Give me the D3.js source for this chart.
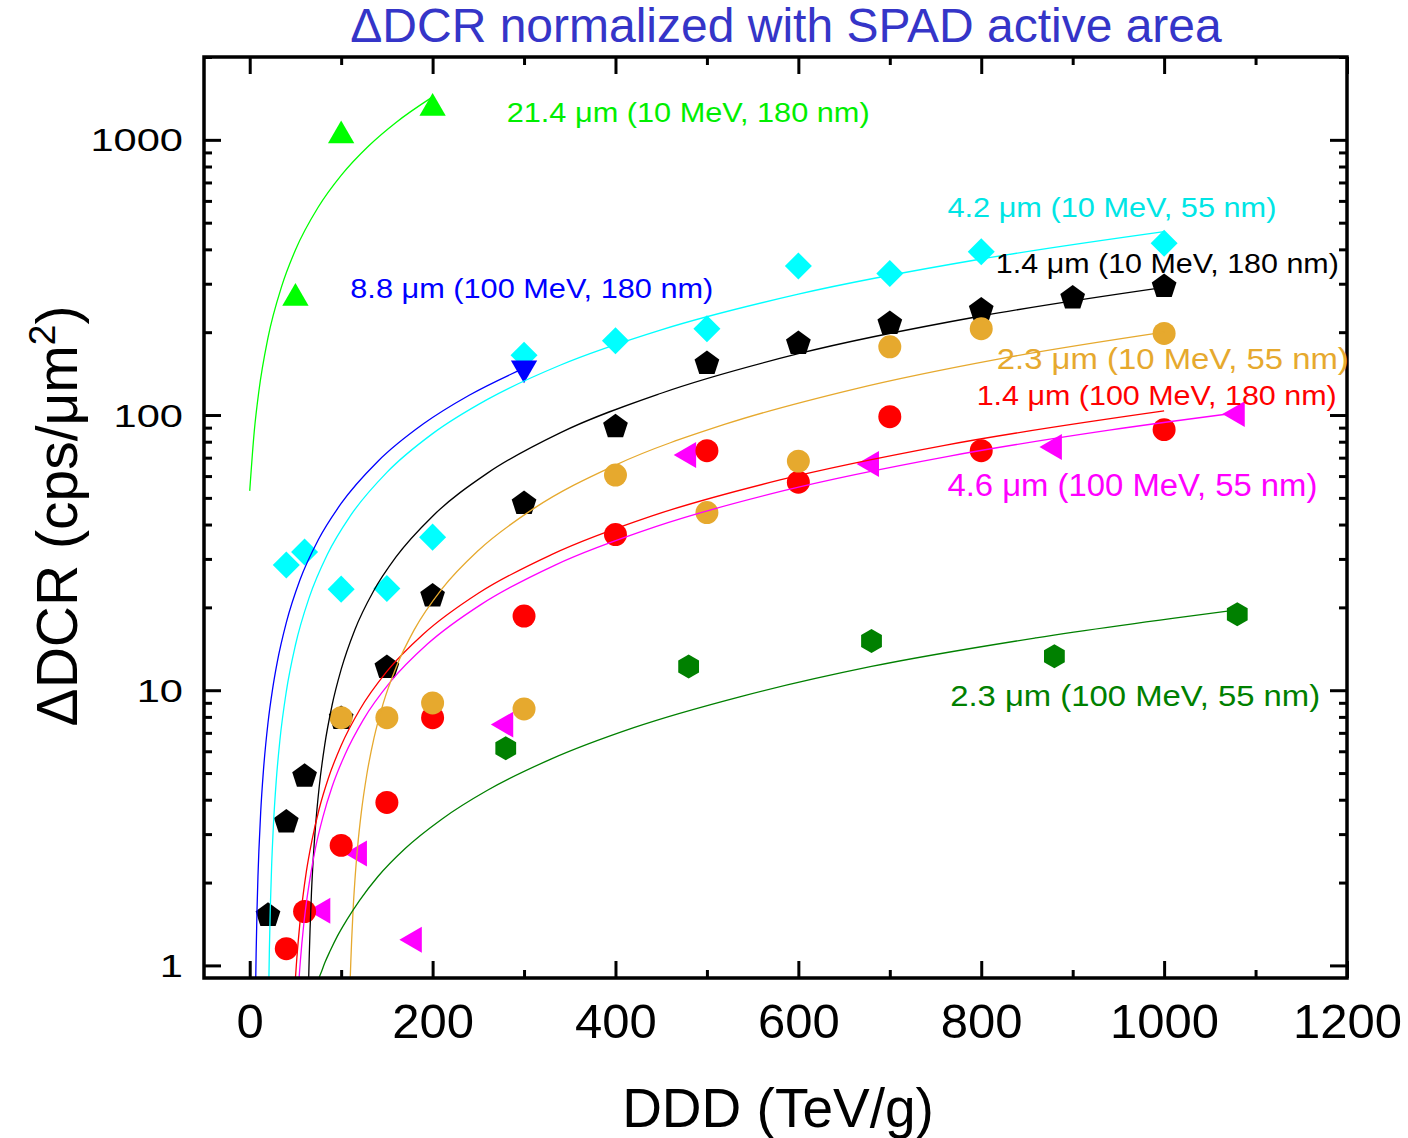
<!DOCTYPE html>
<html lang="en">
<head>
<meta charset="UTF-8">
<title>DCR vs DDD</title>
<script src="https://d3js.org/d3.v7.min.js"></script>
<style>
  body { margin: 0; background: #fff; font-family: Arial, "Liberation Sans", sans-serif; }
  .tick line { stroke: #000; stroke-width: 3; }
  .domain { display: none; }
  .fit { fill: none; stroke-width: 1.3; }
</style>
</head>
<body>
<div id="chart"></div>
<script>
// ---- measured points (DDD in TeV/g, delta DCR in cps/um^2) ----
// 21.4 um (10 MeV, 180 nm)
const ddd_214 = [50, 100, 200];
const dcr_214 = [266, 1035, 1303];
// 8.8 um (100 MeV, 180 nm)
const ddd_88 = [300];
const dcr_88 = [148];
// 4.2 um (10 MeV, 55 nm)
const ddd_42 = [40, 60, 100, 150, 200, 300, 400, 500, 600, 700, 800, 1000];
const dcr_42 = [28.5, 31.8, 23.3, 23.4, 36, 165, 186, 206, 348, 327, 392, 421];
// 1.4 um (10 MeV, 180 nm)
const ddd_14a = [20, 40, 60, 100, 150, 200, 300, 400, 500, 600, 700, 800, 900, 1000];
const dcr_14a = [1.52, 3.32, 4.87, 7.9, 12.1, 22, 47.7, 90.6, 154, 182, 215, 241, 266, 293];
// 2.3 um (10 MeV, 55 nm)
const ddd_23a = [100, 150, 200, 300, 400, 500, 600, 700, 800, 1000];
const dcr_23a = [7.95, 7.95, 8.99, 8.55, 60.5, 44.2, 68, 177, 206, 198];
// 1.4 um (100 MeV, 180 nm)
const ddd_14b = [40, 60, 100, 150, 200, 300, 400, 500, 600, 700, 800, 1000];
const dcr_14b = [1.15, 1.57, 2.73, 3.91, 7.95, 18.6, 36.8, 74.2, 57, 98.6, 74.2, 88.5];
// 4.6 um (100 MeV, 55 nm)
const ddd_46 = [80, 120, 180, 280, 480, 680, 880, 1080];
const dcr_46 = [1.58, 2.55, 1.24, 7.5, 71.6, 66.4, 76.5, 100.8];
// 2.3 um (100 MeV, 55 nm)
const ddd_23b = [280, 480, 680, 880, 1080];
const dcr_23b = [6.15, 12.2, 15.1, 13.3, 18.9];

// ---- fit lines, points [DDD, DCR] ----
const fit_214 = [[0, 53], [5, 87.5], [10, 122], [20, 191], [35, 294], [50, 398], [75, 570], [100, 743],
  [130, 950], [160, 1157], [200, 1433]];
const fit_88 = [[6.6, 0.9], [7, 1.1], [8, 1.6], [9, 2.1], [10, 2.6], [12, 3.61], [15, 5.11], [20, 7.62],
  [25, 10.1], [30, 12.6], [40, 17.6], [55, 25.2], [75, 35.2], [100, 47.7], [140, 67.8], [190, 92.9],
  [240, 118], [300, 148]];
const fit_42 = [[21, 0.9], [21.5, 1.14], [22.5, 1.61], [24, 2.32], [26, 3.27], [29, 4.69], [33, 6.58],
  [40, 9.89], [50, 14.6], [65, 21.7], [85, 31.2], [110, 43], [150, 61.9], [200, 85.6], [260, 114],
  [340, 152], [450, 204], [600, 275], [800, 369], [1000, 464]];
const fit_14a = [[64.5, 0.9], [65, 1.05], [66, 1.36], [67.5, 1.83], [69.5, 2.45], [72, 3.22], [76, 4.46],
  [82, 6.32], [90, 8.8], [100, 11.9], [115, 16.6], [135, 22.8], [160, 30.5], [200, 42.9], [260, 61.5],
  [340, 86.3], [450, 120], [600, 167], [800, 229], [1000, 291]];
const fit_23a = [[110, 0.91], [110.5, 1.02], [111.5, 1.24], [113, 1.58], [115, 2.03], [118, 2.7], [122, 3.59],
  [128, 4.93], [136, 6.72], [146, 8.96], [160, 12.1], [180, 16.6], [210, 23.3], [250, 32.2], [310, 45.6],
  [400, 65.8], [520, 92.6], [660, 124], [820, 160], [1000, 200]];
const fit_14b = [[50, 0.9], [50.5, 0.95], [51.5, 1.06], [53, 1.22], [55, 1.44], [58, 1.76], [62, 2.2],
  [68, 2.84], [76, 3.71], [86, 4.79], [100, 6.3], [120, 8.46], [150, 11.7], [190, 16], [250, 22.5],
  [330, 31.1], [440, 43], [580, 58.1], [760, 77.6], [1000, 103.5]];
const fit_46 = [[54, 0.9], [54.5, 0.95], [55.5, 1.05], [57, 1.2], [59, 1.4], [62, 1.69], [66, 2.08],
  [72, 2.68], [80, 3.46], [90, 4.45], [104, 5.82], [124, 7.79], [154, 10.74], [194, 14.68], [254, 20.6],
  [334, 28.5], [444, 39.3], [584, 53.1], [764, 70.8], [940, 88.1], [1078, 101.7]];
const fit_23b = [[75.7, 0.9], [78, 0.94], [82, 1.02], [88, 1.13], [96, 1.28], [106, 1.46], [120, 1.72],
  [140, 2.1], [170, 2.66], [210, 3.4], [260, 4.33], [330, 5.63], [420, 7.31], [540, 9.54], [680, 12.2],
  [860, 15.5], [1080, 19.6]];

// ---- axis ticks ----
const xMajor = [0, 200, 400, 600, 800, 1000, 1200];
const xMinor = [100, 300, 500, 700, 900, 1100];
const yMajor = [1, 10, 100, 1000];
const yLabels = ['1', '10', '100', '1000'];

const width = 1408;
const height = 1138;
const margin = { top: 57, right: 61, bottom: 160, left: 204 };

const svg = d3.select('#chart')
  .append('svg')
  .attr('width', width)
  .attr('height', height);

const x = d3.scaleLinear()
  .domain([-50, 1200])
  .range([margin.left, width - margin.right]);

const y = d3.scaleLog()
  .domain([0.9, 2000])
  .range([height - margin.bottom, margin.top]);

const yMinor = y.ticks().filter(v => !yMajor.includes(v) && v > 1);

svg.append('clipPath').attr('id', 'plot')
  .append('rect')
  .attr('x', margin.left).attr('y', margin.top)
  .attr('width', width - margin.left - margin.right)
  .attr('height', height - margin.top - margin.bottom);

// marker shapes, size = radius
const pentagon = {
  draw(ctx, r) {
    for (let i = 0; i < 5; i++) {
      const a = -Math.PI / 2 + i * 2 * Math.PI / 5;
      i ? ctx.lineTo(r * Math.cos(a), r * Math.sin(a)) : ctx.moveTo(r * Math.cos(a), r * Math.sin(a));
    }
    ctx.closePath();
  }
};
const hexagon = {
  draw(ctx, r) {
    for (let i = 0; i < 6; i++) {
      const a = -Math.PI / 2 + i * Math.PI / 3;
      i ? ctx.lineTo(r * Math.cos(a), r * Math.sin(a)) : ctx.moveTo(r * Math.cos(a), r * Math.sin(a));
    }
    ctx.closePath();
  }
};

const shapes = {
  triUp: { path: d3.symbol(d3.symbolTriangle, 300)(), rot: 0 },
  triDown: { path: d3.symbol(d3.symbolTriangle, 300)(), rot: 180 },
  triLeft: { path: d3.symbol(d3.symbolTriangle, 290)(), rot: -90 },
  diamond: { path: d3.symbol(d3.symbolSquare, 365)(), rot: 45 },
  circle: { path: d3.symbol(d3.symbolCircle, 415)(), rot: 0 },
  pentagon: { path: d3.symbol(pentagon, 13)(), rot: 0 },
  hexagon: { path: d3.symbol(hexagon, 12)(), rot: 0 }
};

// drawing order matters for the overlaps
const series = [
  { xs: ddd_214, ys: dcr_214, fit: fit_214, color: '#00ff00', shape: 'triUp' },
  { xs: ddd_42, ys: dcr_42, fit: fit_42, color: '#00ffff', shape: 'diamond' },
  { xs: ddd_88, ys: dcr_88, fit: fit_88, color: '#0000ff', shape: 'triDown' },
  { xs: ddd_14a, ys: dcr_14a, fit: fit_14a, color: '#000000', shape: 'pentagon' },
  { xs: ddd_46, ys: dcr_46, fit: fit_46, color: '#ff00ff', shape: 'triLeft' },
  { xs: ddd_14b, ys: dcr_14b, fit: fit_14b, color: '#ff0000', shape: 'circle' },
  { xs: ddd_23a, ys: dcr_23a, fit: fit_23a, color: '#e6a92e', shape: 'circle' },
  { xs: ddd_23b, ys: dcr_23b, fit: fit_23b, color: '#008000', shape: 'hexagon' }
];

// markers
series.forEach(s => {
  const pts = s.xs.map((d, i) => [d, s.ys[i]]);
  svg.append('g')
    .selectAll('path')
    .data(pts)
    .enter()
    .append('path')
    .attr('d', shapes[s.shape].path)
    .attr('transform', d => `translate(${x(d[0])},${y(d[1])}) rotate(${shapes[s.shape].rot})`)
    .attr('fill', s.color);
});

// fit lines on top
const line = d3.line()
  .x(d => x(d[0]))
  .y(d => y(d[1]))
  .curve(d3.curveMonotoneX);

svg.append('g')
  .attr('clip-path', 'url(#plot)')
  .selectAll('path')
  .data(series)
  .enter()
  .append('path')
  .attr('class', 'fit')
  .attr('d', s => line(s.fit))
  .attr('stroke', s => s.color);

// frame ticks, all pointing inward
const xBottom = height - margin.bottom;
const xTop = margin.top;
const yLeft = margin.left;
const yRight = width - margin.right;

svg.append('g')
  .attr('transform', `translate(0,${xBottom})`)
  .call(d3.axisBottom(x).tickValues(xMajor).tickSizeInner(-17).tickSizeOuter(0).tickPadding(25).tickFormat(d3.format('d')))
  .attr('font-size', 49)
  .attr('font-family', 'Arial, "Liberation Sans", sans-serif');
svg.append('g')
  .attr('transform', `translate(0,${xBottom})`)
  .call(d3.axisBottom(x).tickValues(xMinor).tickSize(-8).tickFormat(''));
svg.append('g')
  .attr('transform', `translate(0,${xTop})`)
  .call(d3.axisTop(x).tickValues(xMajor).tickSize(-17).tickFormat(''));
svg.append('g')
  .attr('transform', `translate(0,${xTop})`)
  .call(d3.axisTop(x).tickValues(xMinor).tickSize(-8).tickFormat(''));
svg.append('g')
  .attr('transform', `translate(${yLeft},0)`)
  .call(d3.axisLeft(y).tickValues(yMajor).tickSize(-17).tickFormat(''));
svg.append('g')
  .attr('transform', `translate(${yLeft},0)`)
  .call(d3.axisLeft(y).tickValues(yMinor).tickSize(-8).tickFormat(''));
svg.append('g')
  .attr('transform', `translate(${yRight},0)`)
  .call(d3.axisRight(y).tickValues(yMajor).tickSize(-17).tickFormat(''));
svg.append('g')
  .attr('transform', `translate(${yRight},0)`)
  .call(d3.axisRight(y).tickValues(yMinor).tickSize(-8).tickFormat(''));

svg.selectAll('.tick text').attr('fill', '#000');

// y tick labels are drawn wide in the original
svg.append('g')
  .selectAll('text')
  .data(yMajor)
  .enter()
  .append('text')
  .attr('transform', d => `translate(183,${y(d)}) scale(1.3,1)`)
  .attr('text-anchor', 'end')
  .attr('dy', '0.36em')
  .attr('font-size', 32)
  .text((d, i) => yLabels[i]);

// frame
svg.append('rect')
  .attr('x', yLeft).attr('y', xTop)
  .attr('width', yRight - yLeft).attr('height', xBottom - xTop)
  .attr('fill', 'none')
  .attr('stroke', '#000')
  .attr('stroke-width', 3.5);

// series annotations: anchor in data units, size and fitted width in px
const notes = [
  { text: '21.4 μm (10 MeV, 180 nm)', color: '#00ee00', at: [281, 1160], size: 28, len: 363 },
  { text: '4.2 μm (10 MeV, 55 nm)', color: '#00e5e5', at: [763, 524], size: 28, len: 329 },
  { text: '1.4 μm (10 MeV, 180 nm)', color: '#000000', at: [816, 328], size: 28, len: 343 },
  { text: '8.8 μm (100 MeV, 180 nm)', color: '#0000ff', at: [110, 267], size: 28, len: 363 },
  { text: '2.3 μm (10 MeV, 55 nm)', color: '#e6a92e', at: [817, 147.5], size: 29, len: 352 },
  { text: '1.4 μm (100 MeV, 180 nm)', color: '#ff0000', at: [795, 108.7], size: 28, len: 360 },
  { text: '4.6 μm (100 MeV, 55 nm)', color: '#ff00ff', at: [763, 50.8], size: 31, len: 370 },
  { text: '2.3 μm (100 MeV, 55 nm)', color: '#008000', at: [766, 8.76], size: 30, len: 370 }
];

svg.append('g')
  .selectAll('text')
  .data(notes)
  .enter()
  .append('text')
  .attr('x', d => x(d.at[0]))
  .attr('y', d => y(d.at[1]))
  .attr('font-size', d => d.size)
  .attr('textLength', d => d.len)
  .attr('lengthAdjust', 'spacingAndGlyphs')
  .attr('fill', d => d.color)
  .text(d => d.text);

// title and axis titles
svg.append('text')
  .attr('x', 786)
  .attr('y', 42)
  .attr('text-anchor', 'middle')
  .attr('font-size', 48)
  .attr('fill', '#3535c8')
  .text('ΔDCR normalized with SPAD active area');

svg.append('text')
  .attr('x', 778)
  .attr('y', 1127)
  .attr('text-anchor', 'middle')
  .attr('font-size', 55)
  .text('DDD (TeV/g)');

const yTitle = svg.append('text')
  .attr('transform', 'translate(77,516) rotate(-90)')
  .attr('text-anchor', 'middle')
  .attr('font-size', 57);
yTitle.append('tspan').text('ΔDCR (cps/μm');
yTitle.append('tspan').attr('font-size', 37).attr('dy', -22).text('2');
yTitle.append('tspan').attr('dy', 22).text(')');
</script>
</body>
</html>
